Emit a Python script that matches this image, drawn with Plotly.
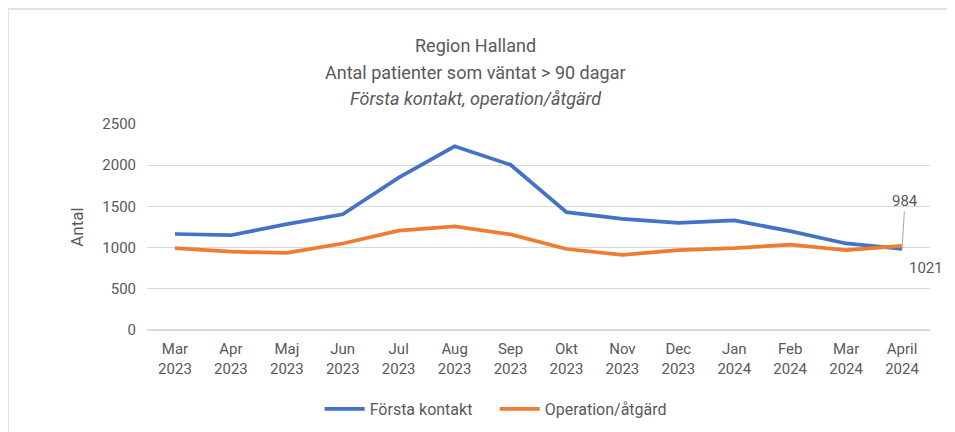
import plotly.graph_objects as go

months = ["Mar<br>2023", "Apr<br>2023", "Maj<br>2023", "Jun<br>2023", "Jul<br>2023", "Aug<br>2023",
          "Sep<br>2023", "Okt<br>2023", "Nov<br>2023", "Dec<br>2023", "Jan<br>2024", "Feb<br>2024",
          "Mar<br>2024", "April<br>2024"]
forsta_kontakt = [1165, 1150, 1285, 1405, 1850, 2230, 2005, 1430, 1350, 1300, 1330, 1200, 1050, 984]
operation_atgard = [993, 950, 935, 1050, 1205, 1258, 1160, 983, 912, 970, 993, 1035, 970, 1021]

FONT = "Roboto, sans-serif"
GRAY = "#595959"

fig = go.Figure()
fig.add_trace(go.Scatter(x=months, y=forsta_kontakt, mode="lines", name="Första kontakt",
                         line=dict(color="#4472C4", width=3.75)))
fig.add_trace(go.Scatter(x=months, y=operation_atgard, mode="lines", name="Operation/åtgärd",
                         line=dict(color="#ED7D31", width=3.75)))

# outer chart border
fig.add_shape(type="rect", xref="paper", yref="paper", x0=-0.1775, x1=1.023, y0=-0.7, y1=1.558,
              line=dict(color="#d9d9d9", width=1.5), fillcolor="rgba(0,0,0,0)", layer="below")

titles = [("Region Halland", 1.383), ("Antal patienter som väntat > 90 dagar", 1.252),
          ("<i>Första kontakt, operation/åtgärd</i>", 1.126)]
for txt, yy in titles:
    fig.add_annotation(text=txt, xref="paper", yref="paper", x=0.42, y=yy, showarrow=False,
                       font=dict(family=FONT, size=18, color=GRAY), xanchor="center", yanchor="middle")

fig.add_annotation(x=months[-1], y=forsta_kontakt[-1], text=str(forsta_kontakt[-1]), showarrow=True,
                   arrowhead=0, arrowwidth=1, arrowcolor="#a6a6a6", ax=3, ay=-48, standoff=0,
                   font=dict(family=FONT, size=15, color=GRAY))
fig.add_annotation(x=months[-1], y=operation_atgard[-1], text=str(operation_atgard[-1]), showarrow=False,
                   xshift=24, yshift=-22, font=dict(family=FONT, size=15, color=GRAY))

fig.update_layout(
    width=955, height=432,
    margin=dict(l=139, r=33, t=116, b=110),
    paper_bgcolor="white", plot_bgcolor="white",
    font=dict(family=FONT, size=15, color=GRAY),
    showlegend=True,
    legend=dict(orientation="h", x=0.444, xanchor="center", y=-0.383, yanchor="middle",
                font=dict(family=FONT, size=16, color=GRAY), itemwidth=40,
                entrywidth=120, entrywidthmode="pixels"),
    xaxis=dict(type="category", range=[-0.5, len(months) - 0.5], showgrid=False, showline=False,
               ticks="", tickfont=dict(size=15), ticklabelstandoff=8, automargin=False),
    yaxis=dict(range=[0, 2500], dtick=500, gridcolor="#d9d9d9", gridwidth=1, zeroline=True,
               zerolinecolor="#d9d9d9", showline=False, ticks="", tickfont=dict(size=15),
               ticklabelstandoff=10, automargin=False,
               title=dict(text="Antal", font=dict(size=17, color=GRAY), standoff=14)),
)

fig.write_html("out.html")
